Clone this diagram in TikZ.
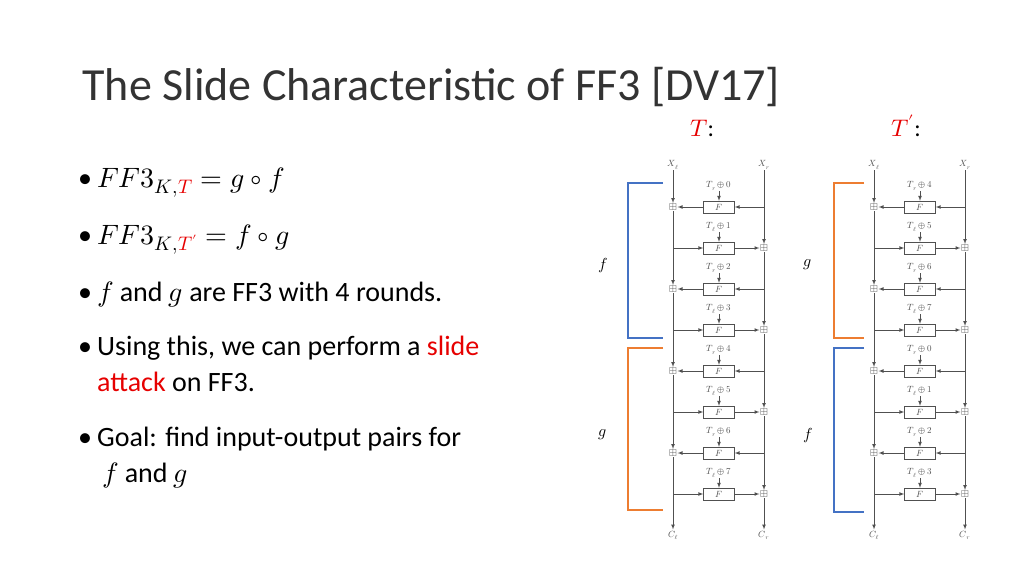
\documentclass[tikz,border=0pt]{standalone}
\usepackage{fontspec}
\usepackage{unicode-math}
\setmainfont{Carlito}
\setmathfont{Latin Modern Math}
\usetikzlibrary{calc,arrows}
\definecolor{ppblue}{RGB}{68,114,196}
\definecolor{pporange}{RGB}{237,125,49}
\definecolor{ppred}{RGB}{230,0,0}
\definecolor{fgray}{RGB}{80,80,80}
\tikzset{
  lbl/.style={font=\fontsize{9}{10}\selectfont, text=fgray, inner sep=1pt},
  fbox/.style={draw=fgray, minimum width=31pt, minimum height=12pt, inner sep=0pt, font=\fontsize{9}{10}\selectfont, text=fgray},
  xorbox/.style={inner sep=0.5pt, font=\fontsize{10}{11}\selectfont, text=fgray},
  wire/.style={draw=fgray, -latex, line width=0.7pt},
  brace/.style={line width=1.3pt}
}
% one Feistel ladder: prefix, x of left wire, tweak offset
\newcommand{\feistel}[3]{%
  \node[lbl] (#1xl) at (#2,165) {$X_\ell$};
  \node[lbl] (#1xr) at (#2+91,165) {$X_r$};
  \node[lbl] (#1cl) at (#2,535) {$C_\ell$};
  \node[lbl] (#1cr) at (#2+91,535) {$C_r$};
  \foreach \i in {0,...,7}{
    \pgfmathsetmacro\y{207+41*\i}
    \pgfmathtruncatemacro\t{mod(\i+#3,8)}
    \node[fbox] (#1f\i) at (#2+46,\y) {$F$};
    \ifodd\i
      \node[lbl] (#1t\i) at (#2+46,\y-21) {$T_\ell\oplus\t$};
      \node[xorbox] (#1p\i) at (#2+91,\y) {$\boxplus$};
      \draw[wire] (#1f\i -| #1xl) -- (#1f\i.west);
      \draw[wire] (#1f\i.east) -- (#1p\i.west);
    \else
      \node[lbl] (#1t\i) at (#2+46,\y-21) {$T_r\oplus\t$};
      \node[xorbox] (#1p\i) at (#2,\y) {$\boxplus$};
      \draw[wire] (#1f\i -| #1xr) -- (#1f\i.east);
      \draw[wire] (#1f\i.west) -- (#1p\i.east);
    \fi
    \draw[wire] (#1t\i) -- (#1f\i);
  }
  \foreach \a/\b in {xl/p0,p0/p2,p2/p4,p4/p6,p6/cl,xr/p1,p1/p3,p3/p5,p5/p7,p7/cr}
    \draw[wire] (#1\a) -- (#1\b);
}
\newcommand{\bul}{\makebox[19pt][l]{\textbullet}}

\begin{document}
\begin{tikzpicture}[x=1pt,y=-1pt]
  \useasboundingbox (0,0) rectangle (1024,576);
  % title
  \node[anchor=base west, font=\fontsize{46}{50}\selectfont, text=black!80] (title) at (79,100) {The Slide Characteristic of FF3 [DV17]};
  \node[anchor=base, font=\fontsize{24}{26}\selectfont] (tlab) at (702,136) {$\color{ppred}T$:};
  \node[anchor=base, font=\fontsize{24}{26}\selectfont] (tplab) at (906,136) {$\color{ppred}T'$:};
  % bullets
  \begin{scope}[every node/.style={anchor=base west, font=\fontsize{28}{34}\selectfont, inner sep=0pt}]
    \node (b1) at (78,187) {\bul$FF3_{K,\color{ppred}T}=g\circ f$};
    \node (b2) at (78,244) {\bul$FF3_{K,\color{ppred}T'}=f\circ g$};
    \node (b3) at (78,301) {\bul$f$ and $g$ are FF3 with 4 rounds.};
    \node (b4) at (78,355) {\bul Using this, we can perform a \textcolor{ppred}{slide}};
    \node (b4b) at (97,391) {\textcolor{ppred}{attack} on FF3.};
    \node (b5) at (78,446) {\bul Goal: find input-output pairs for};
    \node (b5b) at (102,482) {$f$ and $g$};
  \end{scope}
  % ladders
  \feistel{a}{673}{0}
  \feistel{b}{874}{4}
  % brackets
  \draw[brace, ppblue] (663,183) -- (628,183) -- (628,338) -- (663,338);
  \draw[brace, pporange] (663,348) -- (628,348) -- (628,510) -- (663,510);
  \draw[brace, pporange] (864,183) -- (834,183) -- (834,338) -- (864,338);
  \draw[brace, ppblue] (864,348) -- (834,348) -- (834,512) -- (864,512);
  \node[font=\fontsize{16}{18}\selectfont] (fa) at (603,265) {$f$};
  \node[font=\fontsize{16}{18}\selectfont] (ga) at (603,435) {$g$};
  \node[font=\fontsize{16}{18}\selectfont] (gb) at (808,265) {$g$};
  \node[font=\fontsize{16}{18}\selectfont] (fb) at (808,435) {$f$};
\end{tikzpicture}
\end{document}
